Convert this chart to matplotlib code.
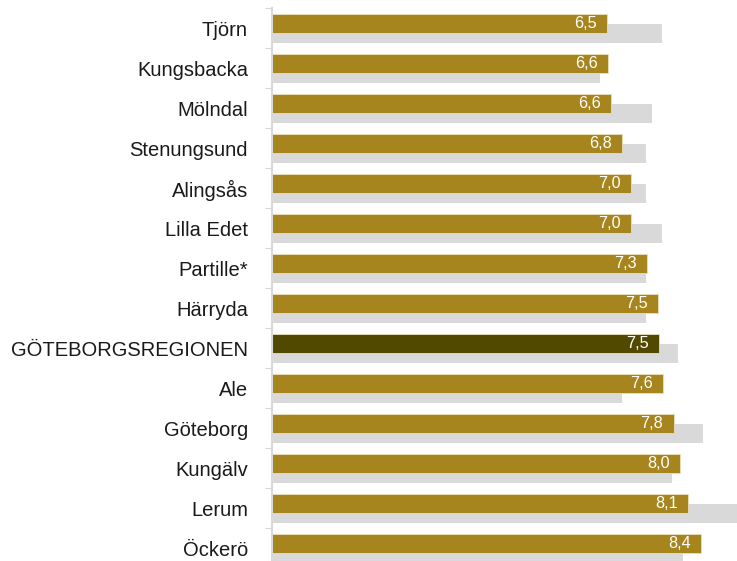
import matplotlib
matplotlib.use("Agg")
import matplotlib.pyplot as plt
from matplotlib.ticker import FixedLocator

plt.rcParams['font.family'] = ['Liberation Sans', 'DejaVu Sans']

# Data (top to bottom as in the chart)
categories = ['Tjörn', 'Kungsbacka', 'Mölndal', 'Stenungsund', 'Alingsås',
              'Lilla Edet', 'Partille*', 'Härryda', 'GÖTEBORGSREGIONEN', 'Ale',
              'Göteborg', 'Kungälv', 'Lerum', 'Öckerö']
current = [6.54, 6.56, 6.62, 6.83, 7.00, 7.00, 7.32, 7.52, 7.54, 7.62,
           7.83, 7.96, 8.11, 8.37]
previous = [7.61, 6.40, 7.41, 7.30, 7.30, 7.60, 7.30, 7.30, 7.91, 6.82,
            8.41, 7.80, 9.20, 8.01]
highlight = 'GÖTEBORGSREGIONEN'

gold = '#a6841e'
dark = '#514900'
grey = '#d9d9d9'

W, H = 737, 561
fig = plt.figure(figsize=(W / 100, H / 100), dpi=100)
ax = fig.add_axes([271.5 / W, (H - 568) / H, (W - 271.5) / W, 560 / H])

y = list(range(len(categories)))
bar_h = 0.475

# grey bars behind, shifted down
ax.barh([i + 0.14 for i in y], previous, height=0.48, color=grey,
        linewidth=0, zorder=1)

# gold bars on top, shifted up
colors = [dark if c == highlight else gold for c in categories]
ax.barh([i - 0.1125 for i in y], current, height=bar_h, color=colors,
        edgecolor='#eadfb8', linewidth=0.6, zorder=2)

for i, v in enumerate(current):
    ax.text(v - 0.2, i - 0.1125, f'{v:.1f}'.replace('.', ','),
            ha='right', va='center', color='white', fontsize=11.7, zorder=3)

ax.set_xlim(0, (W - 271.5) / 51.35)
ax.set_ylim(len(categories) - 0.5, -0.5)

ax.set_yticks(y)
ax.set_yticklabels(categories, fontsize=14.5, color='#1a1a1a')
ax.tick_params(axis='y', which='major', length=0, pad=17)
ax.yaxis.set_minor_locator(FixedLocator([i - 0.5 for i in range(len(categories) + 1)]))
ax.tick_params(axis='y', which='minor', length=5, width=0.8, color=grey)
ax.set_xticks([])

for s in ['top', 'right', 'bottom']:
    ax.spines[s].set_visible(False)
ax.spines['left'].set_color(grey)
ax.spines['left'].set_linewidth(1.5)

fig.savefig('out.png', dpi=100)
